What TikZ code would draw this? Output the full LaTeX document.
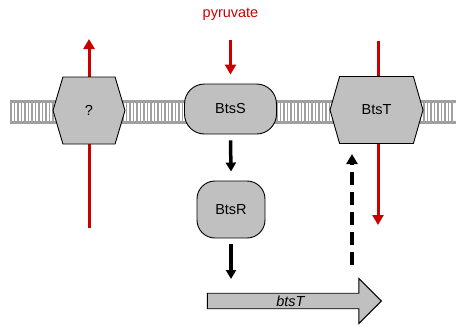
\documentclass[tikz,border=0pt]{standalone}
\usepackage{fontspec}
\setmainfont{Liberation Sans}
\usepackage{xcolor}
\usetikzlibrary{shapes.symbols,shapes.arrows,arrows.meta}

\definecolor{redarrow}{RGB}{200,0,0}
\definecolor{boxgray}{RGB}{192,192,192}
\definecolor{lipid}{RGB}{160,160,160}

\tikzset{
  prot/.style={draw, line width=0.9, fill=boxgray, font=\fontsize{14.5}{17}\selectfont},
  hexa/.style={prot, signal, signal to=west and east, inner sep=0},
  redline/.style={redarrow, line width=3, -{Triangle[length=10,width=11]}},
  blackline/.style={black, line width=3.5, -{Triangle[length=9,width=10]}}
}

\begin{document}
\begin{tikzpicture}[x=1pt,y=-1pt]
	\useasboundingbox (0,0) rectangle (456,325);
	% membrane
	\foreach \x in {11,14.5,...,454}
		\draw[lipid, line width=1.3] (\x,101) -- (\x,122);
	\draw[lipid, line width=3] (10,101) -- (456,101);
	\draw[lipid, line width=3] (10,122) -- (456,122);

	% red transport lines
	\coordinate (qbot) at (89,228);
	\coordinate (qtop) at (89,39);
	\coordinate (ttop) at (378,41);
	\coordinate (tbot) at (378,225);
	\draw[redline] (qbot) -- (qtop);
	\draw[redline] (ttop) -- (tbot);

	\node[hexa, minimum width=72, minimum height=67, signal pointer angle=147] (unk) at (89,110.5) {?};
	\node[hexa, minimum width=93, minimum height=67, signal pointer angle=148] (btst) at (376.5,110) {BtsT};
	\node[prot, rounded corners=20, minimum width=92, minimum height=50] (btss) at (230.5,109) {BtsS};
	\node[prot, rounded corners=18, minimum width=68, minimum height=57] (btsr) at (231,209.5) {BtsR};
	\node[prot, single arrow, single arrow head extend=11, single arrow tip angle=90, shape border rotate=0,
		minimum height=174, minimum width=45, inner sep=0] (gene) at (290.5,301) {\itshape btsT};

	\node[text=redarrow, font=\fontsize{14.5}{17}\selectfont] (pyr) at (230.5,14) {pyruvate};
	\draw[redline] (pyr.south) ++(0,16) -- ([yshift=9]btss.north);
	\draw[blackline] ([yshift=-6]btss.south) -- ([yshift=9]btsr.north);
	\draw[blackline] ([yshift=-6]btsr.south) -- (btsr.south |- 0,279);
	\coordinate (dashbot) at (352,265);
	\draw[line width=4, dash pattern=on 13 off 7, -{Triangle[length=10,width=11]}] (dashbot) -- (dashbot |- 0,154);
\end{tikzpicture}
\end{document}
